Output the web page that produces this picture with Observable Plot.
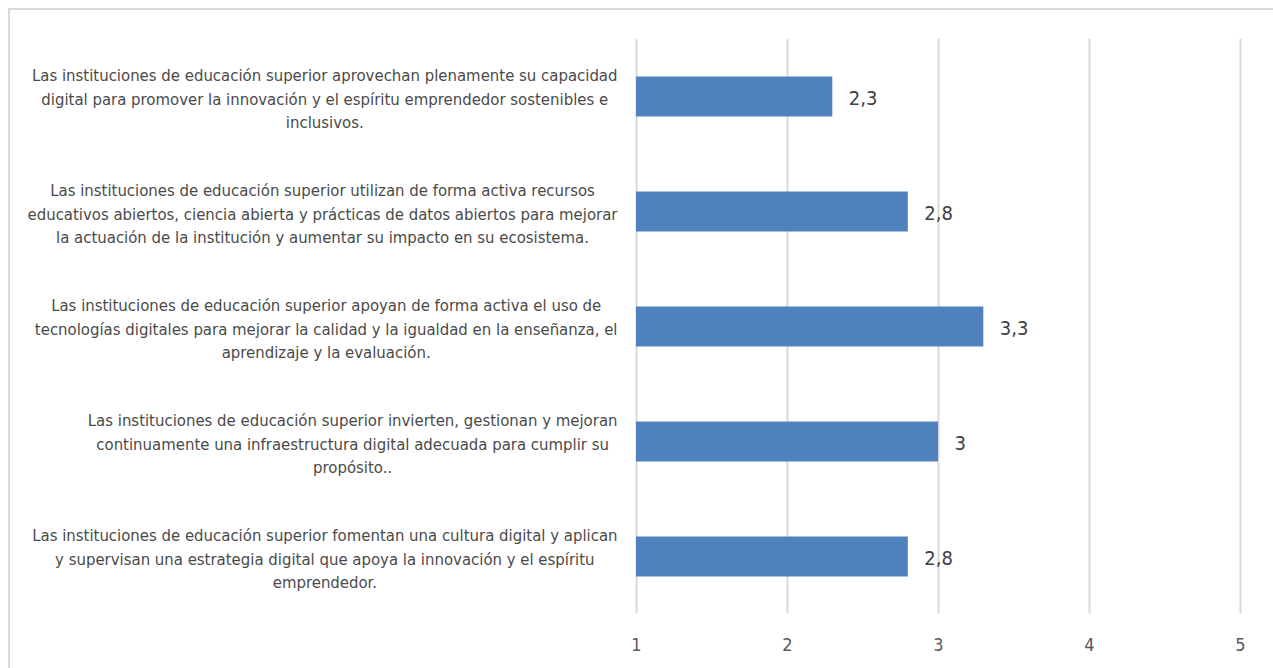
<!DOCTYPE html>
<html>
<head>
<meta charset="utf-8">
<script src="https://cdn.jsdelivr.net/npm/d3@7"></script>
<script src="https://cdn.jsdelivr.net/npm/@observablehq/plot@0.6"></script>
<style>
  html, body { margin: 0; padding: 0; background: #fff; overflow: hidden; }
  #wrap { position: relative; width: 1273px; height: 668px; }
  #frame { position: absolute; left: 8px; top: 8px; width: 1300px; height: 700px;
           border: 2px solid #d9d9d9; box-sizing: border-box; }
  #chart { position: absolute; left: 0; top: 0; }
</style>
</head>
<body>
<div id="wrap"><div id="frame"></div><div id="chart"></div></div>
<script>
// Statements (top to bottom), wrapped as they are printed
const statements = [
  "Las instituciones de educación superior aprovechan plenamente su capacidad\ndigital para promover la innovación y el espíritu emprendedor sostenibles e\ninclusivos.",
  "Las instituciones de educación superior utilizan de forma activa recursos\neducativos abiertos, ciencia abierta y prácticas de datos abiertos para mejorar\nla actuación de la institución y aumentar su impacto en su ecosistema.",
  "Las instituciones de educación superior apoyan de forma activa el uso de\ntecnologías digitales para mejorar la calidad y la igualdad en la enseñanza, el\naprendizaje y la evaluación.",
  "Las instituciones de educación superior invierten, gestionan y mejoran\ncontinuamente una infraestructura digital adecuada para cumplir su\npropósito..",
  "Las instituciones de educación superior fomentan una cultura digital y aplican\ny supervisan una estrategia digital que apoya la innovación y el espíritu\nemprendedor."
];
// Mean score per statement (scale 1–5)
const scores = [2.3, 2.8, 3.3, 3, 2.8];
const scaleTicks = [1, 2, 3, 4, 5];

const rows = statements.map((s, i) => ({statement: s, score: scores[i]}));
const fmt = v => String(v).replace(".", ",");

const labelFont = '"DejaVu Sans Condensed", "Liberation Sans Narrow", "Roboto", sans-serif';
const labelSize = 16.6;
const ctx = document.createElement("canvas").getContext("2d");
ctx.font = `${labelSize}px ${labelFont}`;

const marginLeft = 636;
const labelRight = 617; // right edge of the label column

// Each label block is right-aligned to the column; its lines are centred within it
const labelMarks = rows.map(r => {
  const w = d3.max(r.statement.split("\n"), l => ctx.measureText(l).width);
  return Plot.text([r], {
    y: "statement", text: "statement",
    frameAnchor: "left", textAnchor: "middle",
    dx: labelRight - w / 2 - marginLeft,
    lineHeight: 23.5 / labelSize,
    fontSize: labelSize, fontFamily: labelFont, fill: "#4a4a4a"
  });
});

const chart = Plot.plot({
  width: 1273,
  height: 668,
  marginLeft,
  marginRight: 33,
  marginTop: 38.5,
  marginBottom: 54.5,
  style: {background: "transparent", fontFamily: labelFont},
  x: {domain: [1, 5], axis: null},
  y: {domain: statements, padding: 0, axis: null},
  marks: [
    Plot.ruleX(scaleTicks, {stroke: "#d9d9d9", strokeWidth: 2}),
    Plot.barX(rows, {x1: 1, x2: "score", y: "statement", fill: "#4f81bd",
                     insetTop: 37.5, insetBottom: 37.5}),
    Plot.text(rows, {x: "score", y: "statement", text: d => fmt(d.score),
                     textAnchor: "start", dx: 16, dy: 2, fontSize: 20, fill: "#404040"}),
    Plot.axisX({ticks: scaleTicks, tickSize: 0, tickPadding: 24, fontSize: 18,
                fill: "#595959", label: null, tickFormat: d => fmt(d)}),
    ...labelMarks
  ]
});
document.getElementById("chart").appendChild(chart);
</script>
</body>
</html>
